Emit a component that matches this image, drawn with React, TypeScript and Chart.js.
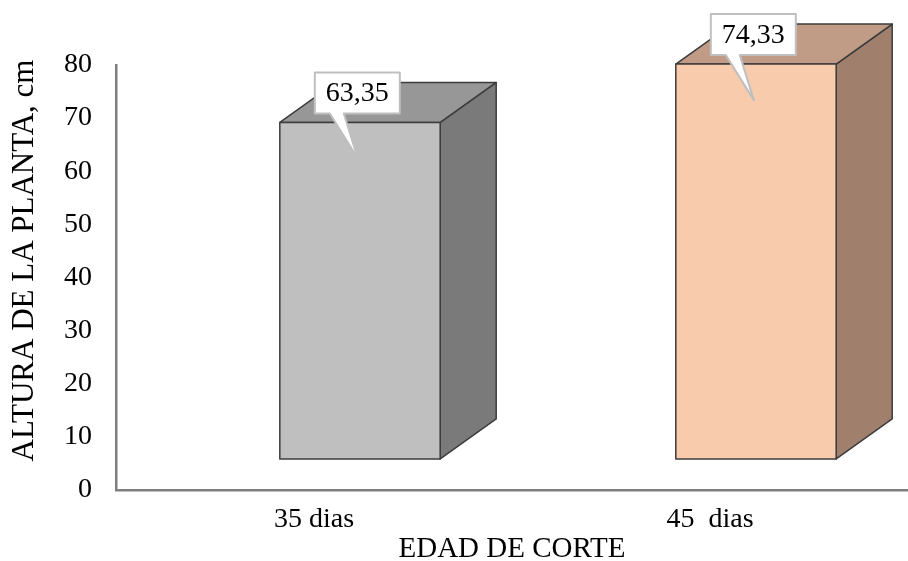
import React, { useEffect, useRef } from "react";
import { Chart, registerables } from "chart.js";

Chart.register(...registerables);

const categories = ["35 dias", "45  dias"];
const values = [63.35, 74.33];
const valueLabels = ["63,35", "74,33"];
const yTicks = [0, 10, 20, 30, 40, 50, 60, 70, 80];
const yTitle = "ALTURA DE LA PLANTA, cm";
const xTitle = "EDAD DE CORTE";

// 3D look (style constants)
const FLOOR = 5.84;
const DEPTH_X = 56;
const DEPTH_Y = -40;
const SHIFT_X = 46;
const faceColors = [
  { front: "#BFBFBF", top: "#979797", side: "#7A7A7A" },
  { front: "#F8CBAD", top: "#C09C86", side: "#A0806C" },
];
const FONT = "'Liberation Serif', 'Times New Roman', serif";

const bar3d = {
  id: "bar3d",
  afterDatasetsDraw(chart: any) {
    const ctx: CanvasRenderingContext2D = chart.ctx;
    const meta = chart.getDatasetMeta(0);
    meta.data.forEach((el: any, i: number) => {
      const p = el.getProps(["x", "y", "base", "width"], true);
      const l = p.x - p.width / 2 + SHIFT_X;
      const r = p.x + p.width / 2 + SHIFT_X;
      const t = Math.min(p.y, p.base);
      const b = Math.max(p.y, p.base);
      const c = faceColors[i % faceColors.length];
      ctx.save();
      ctx.lineJoin = "round";
      ctx.strokeStyle = "#3c3c3c";
      ctx.lineWidth = 1.5;
      // side
      ctx.beginPath();
      ctx.moveTo(r, t);
      ctx.lineTo(r + DEPTH_X, t + DEPTH_Y);
      ctx.lineTo(r + DEPTH_X, b + DEPTH_Y);
      ctx.lineTo(r, b);
      ctx.closePath();
      ctx.fillStyle = c.side;
      ctx.fill();
      ctx.stroke();
      // top
      ctx.beginPath();
      ctx.moveTo(l, t);
      ctx.lineTo(l + DEPTH_X, t + DEPTH_Y);
      ctx.lineTo(r + DEPTH_X, t + DEPTH_Y);
      ctx.lineTo(r, t);
      ctx.closePath();
      ctx.fillStyle = c.top;
      ctx.fill();
      ctx.stroke();
      // front
      ctx.beginPath();
      ctx.rect(l, t, r - l, b - t);
      ctx.fillStyle = c.front;
      ctx.fill();
      ctx.stroke();

      // callout label
      const txt = valueLabels[i];
      ctx.font = `28px ${FONT}`;
      const tw = ctx.measureText(txt).width;
      const bw = tw + 22;
      const bh = 41;
      const bl = l + 35;
      const bt = t - 50;
      const bb = bt + bh;
      const tipX = l + 78;
      const tipY = t + 36;
      ctx.beginPath();
      ctx.moveTo(bl, bt);
      ctx.lineTo(bl + bw, bt);
      ctx.lineTo(bl + bw, bb);
      ctx.lineTo(bl + 29, bb);
      ctx.lineTo(tipX, tipY);
      ctx.lineTo(bl + 15, bb);
      ctx.lineTo(bl, bb);
      ctx.closePath();
      ctx.fillStyle = "#ffffff";
      ctx.fill();
      ctx.strokeStyle = "#BFBFBF";
      ctx.lineWidth = 2;
      ctx.stroke();
      ctx.fillStyle = "#000000";
      ctx.textAlign = "center";
      ctx.textBaseline = "middle";
      ctx.fillText(txt, bl + bw / 2, bt + bh / 2 + 1);
      ctx.restore();
    });
  },
};

const yTitlePlugin = {
  id: "yTitle",
  afterDraw(chart: any) {
    const ctx: CanvasRenderingContext2D = chart.ctx;
    const area = chart.chartArea;
    ctx.save();
    ctx.translate(25, (area.top + area.bottom) / 2 - 17);
    ctx.rotate(-Math.PI / 2);
    ctx.font = `31px ${FONT}`;
    ctx.fillStyle = "#000";
    ctx.textAlign = "center";
    ctx.textBaseline = "middle";
    ctx.fillText(yTitle, 0, 0);
    ctx.restore();
  },
};

export default function App() {
  const ref = useRef<HTMLCanvasElement | null>(null);
  useEffect(() => {
    if (!ref.current) return;
    const chart = new Chart(ref.current, {
      type: "bar",
      data: {
        labels: categories,
        datasets: [
          {
            data: values.map((v) => [FLOOR, FLOOR + v]) as any,
            backgroundColor: "rgba(0,0,0,0)",
            borderWidth: 0,
            barPercentage: 0.81,
            categoryPercentage: 0.5,
          },
        ],
      },
      options: {
        animation: false,
        responsive: true,
        maintainAspectRatio: false,
        layout: { padding: { top: 65, right: 0, left: 0, bottom: 0 } },
        plugins: { legend: { display: false }, tooltip: { enabled: false } },
        scales: {
          x: {
            grid: { display: false, drawTicks: false },
            border: { display: true, color: "#7f7f7f", width: 2.5 },
            ticks: { color: "#000", font: { family: FONT, size: 28 }, padding: 13 },
            title: {
              display: true,
              text: xTitle,
              color: "#000",
              font: { family: FONT, size: 29, lineHeight: 0.8 },
              padding: { top: 0, bottom: 0 },
            },
            afterFit: (s: any) => {
              s.height = 71;
            },
          },
          y: {
            min: 0,
            max: 80,
            grid: { display: false, drawTicks: false },
            border: { display: true, color: "#7f7f7f", width: 2.5 },
            afterBuildTicks: (s: any) => {
              s.ticks = yTicks.map((v) => ({ value: v }));
            },
            ticks: { color: "#000", font: { family: FONT, size: 28 }, padding: 24 },
            afterFit: (s: any) => {
              s.width = 116;
            },
          },
        },
      },
      plugins: [bar3d, yTitlePlugin],
    });
    return () => chart.destroy();
  }, []);
  return (
    <div style={{ position: "absolute", left: 0, top: 0, width: 908, height: 561, background: "#fff" }}>
      <canvas ref={ref} />
    </div>
  );
}
